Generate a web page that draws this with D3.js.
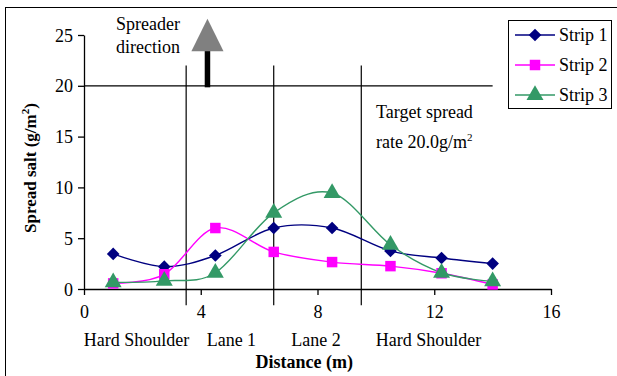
<!DOCTYPE html>
<html>
<head>
<meta charset="utf-8">
<script src="https://cdn.jsdelivr.net/npm/d3@7"></script>
<style>
  html, body { margin: 0; padding: 0; background: #fff; }
  svg { display: block; font-family: "Liberation Serif", "Times New Roman", serif; }
</style>
</head>
<body>
<svg id="chart" width="617" height="376"></svg>
<script>
// Measurement positions across the carriageway (m)
const distances = [1, 2.75, 4.5, 6.5, 8.5, 10.5, 12.25, 14];
// Spread salt per strip (g/m2)
const strip1 = [3.45, 2.2, 3.3, 6.0, 6.0, 3.75, 3.05, 2.5];
const strip2 = [0.55, 1.45, 6.0, 3.65, 2.65, 2.25, 1.55, 0.45];
const strip3 = [0.65, 0.8, 1.6, 7.5, 9.45, 4.35, 1.6, 0.75];
const seriesNames = ["Strip 1", "Strip 2", "Strip 3"];
const seriesColors = ["#000080", "#ff00ff", "#339966"];
const xTicks = [0, 4, 8, 12, 16];
const yTicks = [0, 5, 10, 15, 20, 25];
// Lane boundaries (m) and lane names
const laneBounds = [3.5, 6.5, 9.5];
const laneNames = ["Hard Shoulder", "Lane 1", "Lane 2", "Hard Shoulder"];
const laneLabelX = [1.8, 5.05, 7.95, 11.8];
const targetRate = 20;

const FS = "18px";
const svg = d3.select("#chart");
const x = d3.scaleLinear().domain([0, 16]).range([84, 551]);
const y = d3.scaleLinear().domain([0, 25]).range([289, 35]);

// outer chart frame
svg.append("rect").attr("x", 5.5).attr("y", 7.5).attr("width", 640).attr("height", 400)
  .attr("fill", "none").attr("stroke", "#000").attr("stroke-width", 1);

// target spread rate line
svg.append("line").attr("x1", x(0)).attr("x2", x(14)).attr("y1", y(targetRate)).attr("y2", y(targetRate))
  .attr("stroke", "#000").attr("stroke-width", 1.2);

// lane boundary lines
svg.selectAll(".lane").data(laneBounds).enter().append("line")
  .attr("x1", d => x(d)).attr("x2", d => x(d))
  .attr("y1", y(22)).attr("y2", y(-1.6))
  .attr("stroke", "#000").attr("stroke-width", 1.2);

// axes
const xAxis = d3.axisBottom(x).tickValues(xTicks).tickSize(6).tickSizeOuter(0).tickPadding(10);
const gx = svg.append("g").attr("transform", `translate(0,${y(0)})`).call(xAxis);
const yAxis = d3.axisLeft(y).tickValues(yTicks).tickSize(6).tickSizeOuter(0).tickPadding(5);
const gy = svg.append("g").attr("transform", `translate(${x(0)},0)`).call(yAxis);
[gx, gy].forEach(g => {
  g.select(".domain").attr("stroke", "#000").attr("stroke-width", 1.3);
  g.selectAll(".tick line").attr("stroke", "#000").attr("stroke-width", 1.3);
  g.selectAll(".tick text").attr("fill", "#000").style("font-family", "Liberation Serif")
    .style("font-size", FS);
});
gx.selectAll(".tick text").attr("dy", "0.71em");
gy.selectAll(".tick text").attr("dy", "0.34em");

// lane names under the axis
svg.selectAll(".laneName").data(laneNames).enter().append("text")
  .attr("x", (d, i) => x(laneLabelX[i])).attr("y", 346)
  .attr("text-anchor", "middle").style("font-size", FS).text(d => d);

// axis titles
svg.append("text").attr("x", x(7.55)).attr("y", 368).attr("text-anchor", "middle")
  .style("font-size", FS).style("font-weight", "bold").text("Distance (m)");
const yt = svg.append("text").attr("transform", "translate(36,168) rotate(-90)")
  .attr("text-anchor", "middle").style("font-size", "17px").style("font-weight", "bold");
yt.append("tspan").text("Spread salt (g/m");
yt.append("tspan").attr("dy", -7).style("font-size", "11px").text("2");
yt.append("tspan").attr("dy", 7).text(")");

// series lines and markers
const allSeries = [strip1, strip2, strip3];
const line = d3.line().x(d => x(d[0])).y(d => y(d[1])).curve(d3.curveCatmullRom.alpha(0));
// diamond = square turned 45 degrees
const symbols = [d3.symbolSquare, d3.symbolSquare, d3.symbolTriangle];
const symSizes = [80, 110, 125];
const symRot = [45, 0, 0];
allSeries.forEach((vals, i) => {
  const pts = distances.map((d, j) => [d, vals[j]]);
  svg.append("path").datum(pts).attr("d", line).attr("fill", "none")
    .attr("stroke", seriesColors[i]).attr("stroke-width", 1.4);
});
allSeries.forEach((vals, i) => {
  const pts = distances.map((d, j) => [d, vals[j]]);
  svg.selectAll(".m" + i).data(pts).enter().append("path")
    .attr("transform", d => `translate(${x(d[0])},${y(d[1])}) rotate(${symRot[i]})`)
    .attr("d", d3.symbol().type(symbols[i]).size(symSizes[i]))
    .attr("fill", seriesColors[i]);
});

// spreader direction arrow
const arrowX = 4.23;
svg.append("line").attr("x1", x(arrowX)).attr("x2", x(arrowX)).attr("y1", y(19.85)).attr("y2", y(23.5))
  .attr("stroke", "#000").attr("stroke-width", 5.5);
svg.append("path")
  .attr("d", d3.line()([[x(arrowX - 0.55), y(23.4)], [x(arrowX + 0.55), y(23.4)], [x(arrowX), y(26.6)]]) + "Z")
  .attr("fill", "#808080");
svg.append("text").attr("x", 116).attr("y", 30).style("font-size", FS).text("Spreader");
svg.append("text").attr("x", 116).attr("y", 53).style("font-size", FS).text("direction");

// target annotation
svg.append("text").attr("x", 376).attr("y", 118).style("font-size", FS).text("Target spread");
const tr = svg.append("text").attr("x", 376).attr("y", 148).style("font-size", FS);
tr.append("tspan").text("rate 20.0g/m");
tr.append("tspan").attr("dy", -7).style("font-size", "11px").text("2");

// legend
const lg = svg.append("g");
lg.append("rect").attr("x", 508.5).attr("y", 20.5).attr("width", 103).attr("height", 88)
  .attr("fill", "#fff").attr("stroke", "#000").attr("stroke-width", 1);
seriesNames.forEach((name, i) => {
  const ly = 35 + i * 30;
  lg.append("line").attr("x1", 515).attr("x2", 555).attr("y1", ly).attr("y2", ly)
    .attr("stroke", seriesColors[i]).attr("stroke-width", 1.4);
  lg.append("path").attr("transform", `translate(535,${ly}) rotate(${symRot[i]})`)
    .attr("d", d3.symbol().type(symbols[i]).size(symSizes[i])).attr("fill", seriesColors[i]);
  lg.append("text").attr("x", 559).attr("y", ly + 6).style("font-size", FS).text(name);
});
</script>
</body>
</html>
